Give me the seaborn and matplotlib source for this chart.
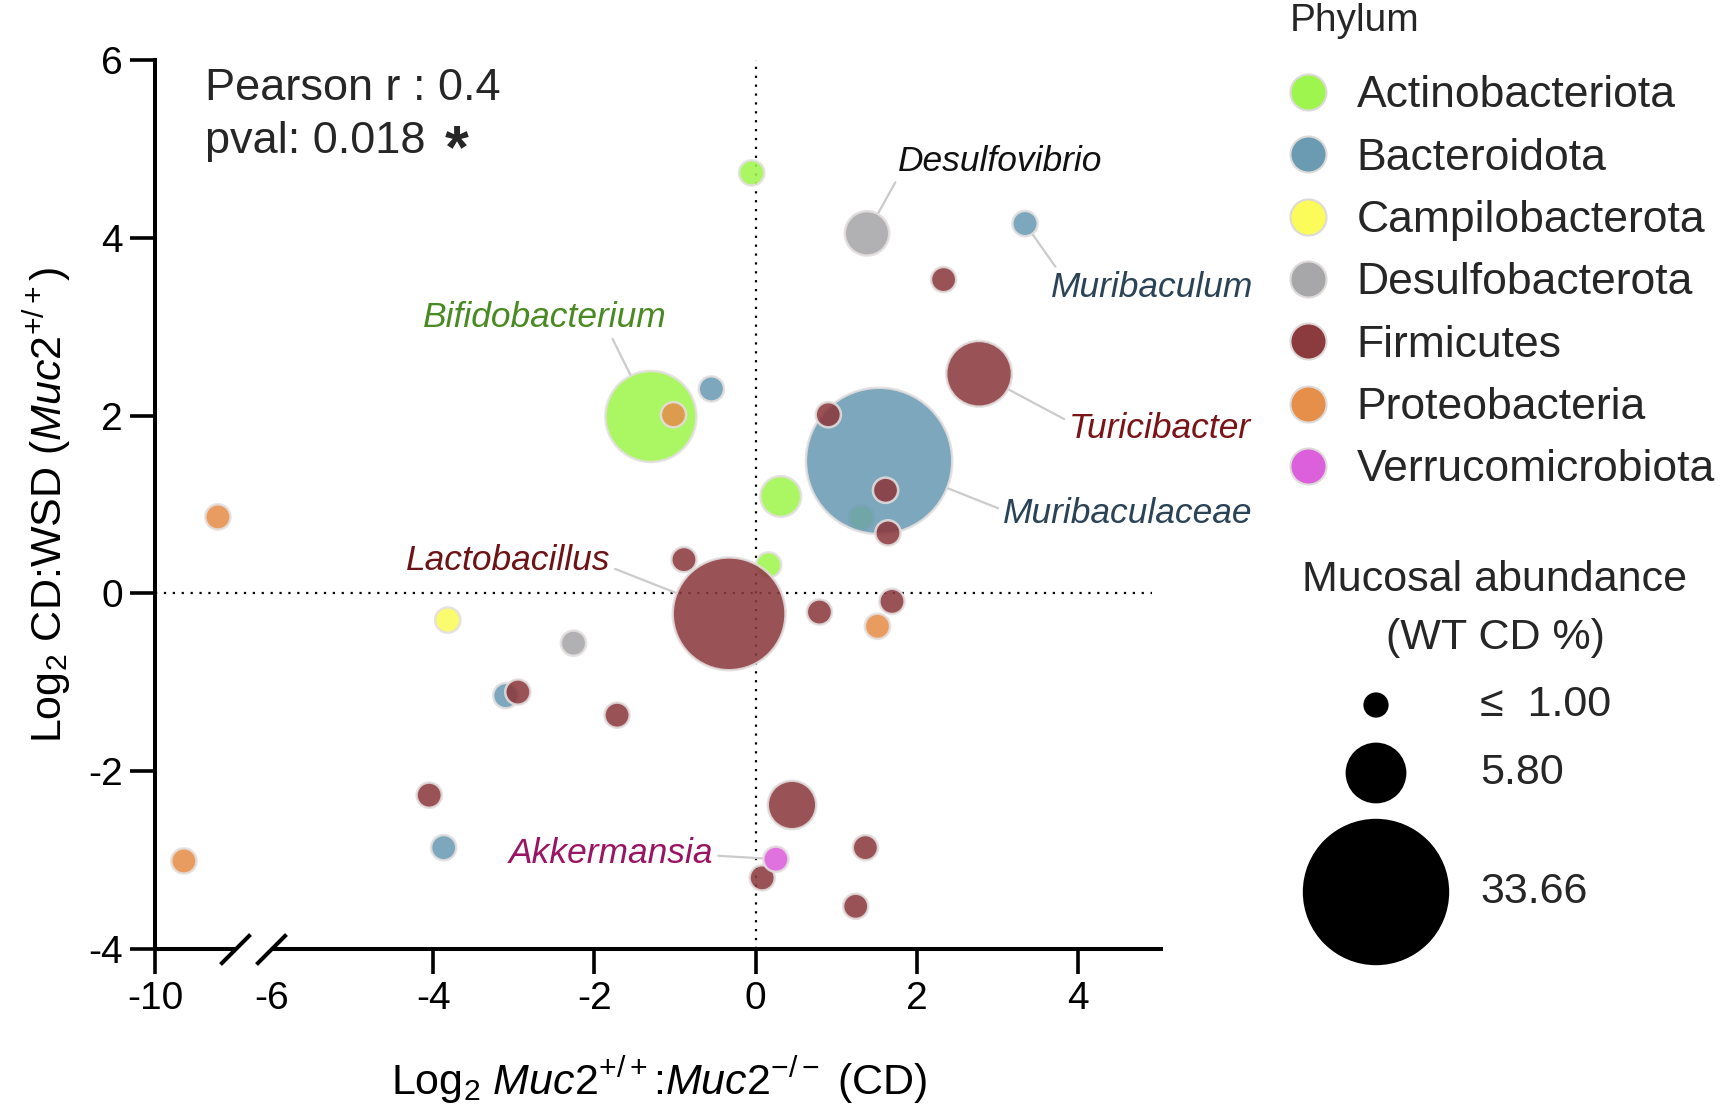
import numpy as np
import pandas as pd
import seaborn as sns
import matplotlib.pyplot as plt
from matplotlib.lines import Line2D

# phylum colours
phylum_order = ["Actinobacteriota", "Bacteroidota", "Campilobacterota", "Desulfobacterota",
                "Firmicutes", "Proteobacteria", "Verrucomicrobiota"]
phylum_colors = ["#9ef54d", "#6a9bb3", "#fbfb5a", "#a7a7a9", "#8b3a3e", "#e58f4a", "#dc5fdc"]

# one entry per genus (drawing order matters for overlaps)
genus = ["", "Desulfovibrio", "Muribaculum", "", "Bifidobacterium", "", "", "Turicibacter",
         "", "Muribaculaceae", "", "", "", "", "", "", "", "Lactobacillus", "", "", "", "",
         "", "", "", "", "", "", "", "", "", "Akkermansia", "", ""]
phylum = ["Actinobacteriota", "Desulfobacterota", "Bacteroidota", "Firmicutes",
          "Actinobacteriota", "Proteobacteria", "Bacteroidota", "Firmicutes",
          "Actinobacteriota", "Bacteroidota", "Firmicutes", "Firmicutes", "Firmicutes",
          "Actinobacteriota", "Proteobacteria", "Actinobacteriota", "Firmicutes", "Firmicutes",
          "Firmicutes", "Firmicutes", "Proteobacteria", "Campilobacterota", "Desulfobacterota",
          "Bacteroidota", "Firmicutes", "Firmicutes", "Firmicutes", "Firmicutes",
          "Bacteroidota", "Proteobacteria", "Firmicutes", "Verrucomicrobiota", "Firmicutes",
          "Firmicutes"]
log2_wt_ko = [-0.05, 1.38, 3.34, 2.33, -1.30, -1.02, -0.55, 2.77, 1.31, 1.53, 0.90, 1.61, 1.64,
              0.31, -8.52, 0.16, -0.89, -0.33, 1.69, 0.79, 1.51, -3.82, -2.26, -3.10, -2.95,
              -1.72, -4.05, 0.45, -3.87, -9.32, 0.08, 0.25, 1.36, 1.24]
log2_cd_wsd = [4.73, 4.05, 4.16, 3.53, 1.99, 2.01, 2.30, 2.47, 0.85, 1.49, 2.01, 1.16, 0.68,
               1.09, 0.86, 0.32, 0.38, -0.23, -0.09, -0.21, -0.37, -0.30, -0.56, -1.15, -1.11,
               -1.37, -2.27, -2.38, -2.86, -3.01, -3.20, -2.99, -2.86, -3.52]
abundance = [1.0, 3.1, 1.0, 1.0, 13.0, 1.0, 1.0, 6.8, 1.0, 33.66, 1.0, 1.0, 1.0, 2.6, 1.0, 1.0,
             1.0, 20.0, 1.0, 1.0, 1.0, 1.0, 1.0, 1.0, 1.0, 1.0, 1.0, 3.7, 1.0, 1.0, 1.0, 1.0,
             1.0, 1.0]

size_legend_values = [1.00, 5.80, 33.66]
size_legend_labels = ["\u2264  1.00", "5.80", "33.66"]

pearson_r = 0.4
pval = 0.018

# label placement: text x, text y, colour, where the leader leaves the text
label_style = {
    "Desulfovibrio": (3.03, 4.86, "#111111", (0.0, 0.0)),
    "Muribaculum": (4.91, 3.44, "#2b4356", (0.04, 1.0)),
    "Bifidobacterium": (-2.62, 3.10, "#4a8a22", (0.77, 0.0)),
    "Turicibacter": (5.01, 1.86, "#7a1416", (0.0, 0.7)),
    "Muribaculaceae": (4.61, 0.90, "#2b4356", (0.0, 0.6)),
    "Lactobacillus": (-3.07, 0.37, "#6e1315", (1.0, 0.3)),
    "Akkermansia": (-1.79, -2.93, "#9a1464", (1.0, 0.45)),
}

df = pd.DataFrame({"genus": genus, "phylum": phylum, "x": log2_wt_ko,
                   "y": log2_cd_wsd, "abundance": abundance})

sns.set_theme(style="ticks")
plt.rcParams["font.family"] = ["Liberation Sans", "DejaVu Sans"]
plt.rcParams["mathtext.fontset"] = "custom"
plt.rcParams["mathtext.rm"] = "Liberation Sans"
plt.rcParams["mathtext.it"] = "Liberation Sans:italic"
plt.rcParams["mathtext.bf"] = "Liberation Sans:bold"

K = 330.0  # marker area (pt^2) per % abundance
palette = dict(zip(phylum_order, phylum_colors))

fig = plt.figure(figsize=(17.2, 11.09), dpi=100)
ax = fig.add_axes([0.0901, 0.1443, 0.586, 0.8016])

ax.axhline(0, xmin=0, xmax=0.989, color="black", lw=1.6, ls=(0, (1, 3)), zorder=0.5)
ax.axvline(0, color="black", lw=1.6, ls=(0, (1, 3)), zorder=0.5)

sns.scatterplot(data=df, x="x", y="y", hue="phylum", hue_order=phylum_order, palette=palette,
                size="abundance", sizes=(0, K * 33.66), size_norm=(0, 33.66),
                edgecolor="#e4dfdf", linewidth=1.8, alpha=0.88, legend=False, ax=ax, zorder=2)


# broken x axis: -10..-8 squeezed, then -6..5 regular
def fwd(x):
    x = np.asarray(x, dtype=float)
    return np.where(x < -8, (x + 10) * 42.5,
                    np.where(x < -6, 85 + (x + 8) * 16, 117 + (x + 6) * 80.63))


def inv(u):
    u = np.asarray(u, dtype=float)
    return np.where(u < 85, u / 42.5 - 10,
                    np.where(u < 117, (u - 85) / 16 - 8, (u - 117) / 80.63 - 6))


ax.set_xscale("function", functions=(fwd, inv))
ax.set_xlim(-10, 5.05)
ax.set_ylim(-4, 6)

ax.set_xticks([-10, -4, -2, 0, 2, 4], labels=["-10", "-4", "-2", "0", "2", "4"])
ax.set_xticks([-6], labels=["-6"], minor=True)
ax.set_yticks([-4, -2, 0, 2, 4, 6], labels=["-4", "-2", "0", "2", "4", "6"])
ax.tick_params(axis="both", which="major", length=18, width=2.6, labelsize=28, pad=5,
               color="black", labelcolor="black")
ax.tick_params(axis="x", which="minor", length=0, labelsize=28, pad=23, labelcolor="black")
ax.tick_params(axis="y", which="minor", length=0)

for s in ["top", "right", "bottom"]:
    ax.spines[s].set_visible(False)
ax.spines["left"].set_linewidth(2.9)
ax.spines["left"].set_color("black")

xt = ax.get_xaxis_transform()
ax.plot([-10, -8.12], [0, 0], transform=xt, color="black", lw=2.9, clip_on=False,
        solid_capstyle="butt")
ax.plot([-6.06, 5.05], [0, 0], transform=xt, color="black", lw=2.9, clip_on=False,
        solid_capstyle="butt")
ax.plot([-8.12, -6.06], [0, 0], transform=xt, ls="none", marker=[(-1, -1), (1, 1)],
        ms=21.6, mew=2.9, mec="black", clip_on=False)

ax.set_xlabel(r"Log$_2$ $\mathit{Muc2}^{+/+}$:$\mathit{Muc2}^{-/-}$ (CD)", fontsize=31,
              labelpad=27, color="black")
ax.set_ylabel(r"Log$_2$ CD:WSD ($\mathit{Muc2}^{+/+}$)", fontsize=31, labelpad=11,
              color="black")

ax.text(0.05, 0.968, f"Pearson r : {pearson_r}", transform=ax.transAxes, fontsize=32.5,
        ha="left", va="center")
ax.text(0.05, 0.908, f"pval: {pval}", transform=ax.transAxes, fontsize=32.5,
        ha="left", va="center")
ax.text(0.288, 0.8965, "*", transform=ax.transAxes, fontsize=44, fontweight="bold",
        ha="left", va="center")

for _, row in df[df["genus"] != ""].iterrows():
    tx, ty, col, rel = label_style[row["genus"]]
    r_pt = 0.5 * np.sqrt(K * row["abundance"]) + 1
    ax.annotate(row["genus"], xy=(row["x"], row["y"]), xytext=(tx, ty), textcoords="data",
                ha="center", va="center", fontsize=25.5, style="italic", color=col,
                arrowprops=dict(arrowstyle="-", color="#cbcbcb", lw=1.6, relpos=rel,
                                shrinkA=1, shrinkB=r_pt), zorder=3)

# phylum legend
fig.text(1290 / 1720, 1 - 21 / 1109, "Phylum", ha="left", va="center", fontsize=28)
handles = [Line2D([], [], ls="", marker="o", ms=26, mfc=c, mec="#dedada", mew=1.5)
           for c in phylum_colors]
fig.legend(handles, phylum_order, loc="upper left",
           bbox_to_anchor=(0.7474, 0.932), frameon=False, fontsize=32,
           handlelength=1.0, handletextpad=0.6, labelspacing=0.48,
           borderpad=0, borderaxespad=0)

# size legend
fig.text(1495 / 1720, 1 - 580 / 1109, "Mucosal abundance", ha="center", va="center",
         fontsize=31)
fig.text(1495 / 1720, 1 - 638 / 1109, "(WT CD %)", ha="center", va="center", fontsize=31)

sax = fig.add_axes([1250 / 1720, 1 - 1000 / 1109, 470 / 1720, 460 / 1109])
sax.set_xlim(1250, 1720)
sax.set_ylim(1000, 540)
sax.axis("off")
row_y = [705, 773, 892]
sdf = pd.DataFrame({"x": [1376] * 3, "y": row_y, "abundance": size_legend_values})
sns.scatterplot(data=sdf, x="x", y="y", size="abundance", sizes=(0, K * 33.66),
                size_norm=(0, 33.66), color="black", linewidth=0, legend=False, ax=sax)
for yy, lab in zip(row_y, size_legend_labels):
    sax.text(1480, yy, lab, ha="left", va="center", fontsize=31,
             family=["Liberation Sans", "DejaVu Sans"])

fig.savefig("out.png", dpi=100)
